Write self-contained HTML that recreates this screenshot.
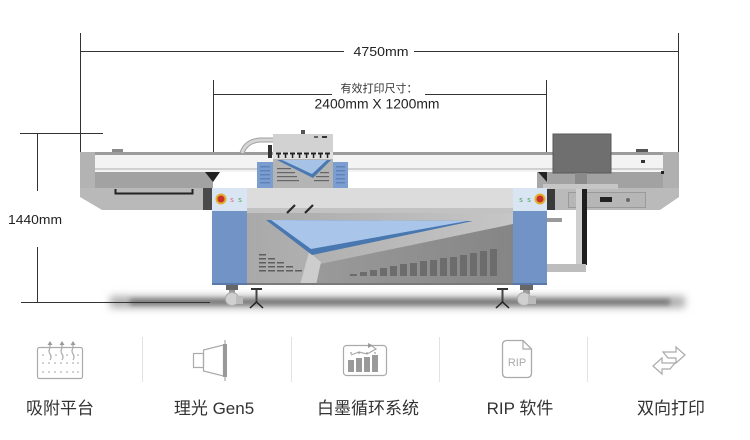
<!DOCTYPE html>
<html><head><meta charset="utf-8">
<style>
html,body{margin:0;padding:0;background:#fff;}
svg{display:block;}
text{font-family:"Liberation Sans","Noto Sans CJK SC",sans-serif;}
</style></head><body>
<svg width="750" height="440" viewBox="0 0 750 440" xmlns="http://www.w3.org/2000/svg">
<defs>
 <filter id="blur" x="-20%" y="-300%" width="140%" height="700%"><feGaussianBlur stdDeviation="4"/></filter>
 <filter id="blur2" x="-20%" y="-300%" width="140%" height="700%"><feGaussianBlur stdDeviation="2.5"/></filter>
 <linearGradient id="panelL" x1="0" y1="0" x2="1" y2="0"><stop offset="0" stop-color="#a9a9a9"/><stop offset="1" stop-color="#c6c6c6"/></linearGradient>
 <linearGradient id="dark" x1="0" y1="0" x2="1" y2="0"><stop offset="0" stop-color="#9a9a9a"/><stop offset="1" stop-color="#858585"/></linearGradient>
</defs>

<!-- shadow -->
<rect x="110" y="296" width="575" height="12" fill="#b0b0b0" filter="url(#blur)"/>
<rect x="130" y="299" width="540" height="6" fill="#7a7a7a" filter="url(#blur2)"/>

<!-- dimension lines -->
<g stroke="#333" stroke-width="1" fill="none" shape-rendering="crispEdges">
 <line x1="80.5" y1="33" x2="80.5" y2="152"/>
 <line x1="678.5" y1="33" x2="678.5" y2="152"/>
 <line x1="80" y1="51.5" x2="344" y2="51.5"/>
 <line x1="414" y1="51.5" x2="678" y2="51.5"/>
 <line x1="213.5" y1="80" x2="213.5" y2="152"/>
 <line x1="546.5" y1="80" x2="546.5" y2="152"/>
 <line x1="213" y1="94.5" x2="332" y2="94.5"/>
 <line x1="425" y1="94.5" x2="547" y2="94.5"/>
 <line x1="20" y1="133.5" x2="103" y2="133.5"/>
 <line x1="37.5" y1="133" x2="37.5" y2="191"/>
 <line x1="37.5" y1="247" x2="37.5" y2="302"/>
 <line x1="21" y1="302.5" x2="210" y2="302.5"/>
</g>
<text x="381" y="56" font-size="13" fill="#222" text-anchor="middle" textLength="55" lengthAdjust="spacingAndGlyphs">4750mm</text>
<text x="379" y="92" font-size="11" fill="#333" text-anchor="middle">有效打印尺寸：</text>
<text x="377" y="108.5" font-size="13.5" fill="#222" text-anchor="middle" textLength="125" lengthAdjust="spacingAndGlyphs">2400mm X 1200mm</text>
<text x="35" y="224" font-size="13" fill="#222" text-anchor="middle" textLength="54" lengthAdjust="spacingAndGlyphs">1440mm</text>

<!-- beam -->
<rect x="80" y="152" width="133" height="36" fill="#a8a8a8"/>
<rect x="537" y="152" width="142" height="36" fill="#a8a8a8"/>
<rect x="95" y="152" width="568" height="3" fill="#9c9c9c"/>
<rect x="95" y="155" width="568" height="17" fill="#f3f3f3"/>
<rect x="95" y="168" width="568" height="2" fill="#d0d0d0"/>
<rect x="95" y="172" width="118" height="16" fill="#a2a2a2"/>
<rect x="548" y="172" width="115" height="16" fill="#a2a2a2"/>
<rect x="80" y="152" width="15" height="36" fill="#b3b3b3"/>
<rect x="663" y="152" width="16" height="45" fill="#b0b0b0"/>
<polygon points="80,188 213,188 213,210 102,210 80,197" fill="#b9b9b9"/>
<polygon points="547,188 679,188 679,197 660,210 547,210" fill="#bababa"/>
<rect x="203" y="188" width="10" height="22" fill="#4a4a4a"/>
<rect x="547" y="188" width="8" height="22" fill="#3a3a3a"/>
<polygon points="205,172 220,172 213,182" fill="#222"/>
<polygon points="538,172 547,172 547,182" fill="#222"/>
<!-- handle -->
<path d="M115.5,189 V193.5 H192.5 V189" stroke="#222" stroke-width="2" fill="none"/>
<rect x="112" y="149" width="11" height="3" fill="#8a8a8a"/>
<rect x="636" y="149" width="12" height="3" fill="#555"/>
<rect x="641" y="160" width="4" height="3" fill="#333"/>
<rect x="661" y="171" width="3" height="3" fill="#222"/>
<!-- right panel inset -->
<rect x="568.5" y="192.5" width="77" height="15" fill="#b6b6b6" stroke="#9a9a9a"/>
<rect x="600" y="197" width="12" height="5" fill="#222"/>
<circle cx="628" cy="200" r="2" fill="#666"/>

<!-- carriage -->
<path d="M242,153 Q246,141 260,140 L274,140" stroke="#a0a0a0" stroke-width="5" fill="none"/>
<path d="M242,153 Q246,141 260,140 L274,140" stroke="#d6d6d6" stroke-width="3" fill="none"/>
<rect x="268" y="145" width="4" height="13" fill="#333"/>
<rect x="257" y="162" width="16" height="26" fill="#7c9dcf"/>
<rect x="333" y="162" width="15" height="26" fill="#7c9dcf"/>
<g fill="#5f82b8">
 <rect x="260" y="166" width="10" height="1.5"/><rect x="260" y="170" width="10" height="1.5"/><rect x="260" y="174" width="10" height="1.5"/><rect x="260" y="178" width="10" height="1.5"/><rect x="260" y="182" width="10" height="1.5"/>
 <rect x="336" y="166" width="9" height="1.5"/><rect x="336" y="170" width="9" height="1.5"/><rect x="336" y="174" width="9" height="1.5"/><rect x="336" y="178" width="9" height="1.5"/><rect x="336" y="182" width="9" height="1.5"/>
</g>
<rect x="273" y="134" width="60" height="54" fill="#b4b4b4"/>
<rect x="273" y="134" width="60" height="18" fill="#d2d2d2"/>
<rect x="273" y="152" width="60" height="7" fill="#e0e0e0"/>
<g fill="#222">
 <rect x="276" y="152.5" width="5" height="2"/><rect x="277.8" y="154" width="1.5" height="4"/>
 <rect x="283" y="152.5" width="5" height="2"/><rect x="284.8" y="154" width="1.5" height="4"/>
 <rect x="290" y="152.5" width="5" height="2"/><rect x="291.8" y="154" width="1.5" height="4"/>
 <rect x="297" y="152.5" width="5" height="2"/><rect x="298.8" y="154" width="1.5" height="4"/>
 <rect x="304" y="152.5" width="5" height="2"/><rect x="305.8" y="154" width="1.5" height="4"/>
 <rect x="311" y="152.5" width="5" height="2"/><rect x="312.8" y="154" width="1.5" height="4"/>
 <rect x="318" y="152.5" width="5" height="2"/><rect x="319.8" y="154" width="1.5" height="4"/>
 <rect x="325" y="152.5" width="5" height="2"/><rect x="326.8" y="154" width="1.5" height="4"/>
</g>
<polygon points="277,160 331,160 313,178" fill="#4a78b0"/>
<polygon points="282,160 327,160 312,174" fill="#a6c3e6"/>
<g fill="#666">
 <rect x="277" y="168" width="14" height="1.2"/><rect x="277" y="172" width="18" height="1.2"/><rect x="277" y="176" width="20" height="1.2"/><rect x="277" y="180" width="22" height="1.2"/>
 <rect x="320" y="172" width="9" height="1.2"/><rect x="316" y="176" width="13" height="1.2"/><rect x="314" y="180" width="15" height="1.2"/>
</g>
<rect x="301" y="130" width="4" height="4" fill="#555"/>
<rect x="314" y="136" width="4" height="2" fill="#666"/><rect x="322" y="136" width="5" height="2" fill="#333"/>

<!-- monitor & stand -->
<rect x="553" y="134" width="58" height="39" fill="#6f6f6f" stroke="#5a5a5a"/>
<rect x="575" y="173" width="12" height="12" fill="#8a8a8a"/>
<rect x="543" y="184" width="75" height="5" fill="#c6c6c6"/>
<rect x="576" y="189" width="6" height="76" fill="#cfcfcf"/>
<rect x="582" y="189" width="5" height="76" fill="#1e1e1e"/>
<rect x="547" y="264" width="39" height="8" fill="#bdbdbd"/>
<rect x="547" y="218" width="15" height="4" fill="#9a9a9a"/>

<!-- body: center panel -->
<rect x="247" y="188" width="266" height="97" fill="url(#panelL)"/>
<rect x="247" y="188" width="266" height="20" fill="#dcdcdc"/>
<rect x="247" y="208" width="266" height="5" fill="#c2c2c2"/>
<polygon points="316,285 320,264 513,224 513,285" fill="url(#dark)"/>
<polygon points="300,285 309,252 321,262 316,285" fill="#cdcdcd"/>
<polygon points="266,220 473,221 312,255" fill="#4977b0"/>
<polygon points="271,220 467,221 311,249" fill="#a9c6ea"/>
<line x1="287" y1="213" x2="295" y2="205" stroke="#2a2a2a" stroke-width="2.2"/>
<line x1="305" y1="213" x2="313" y2="205" stroke="#2a2a2a" stroke-width="2.2"/>
<!-- left vents -->
<g fill="#5e5e5e">
 <rect x="259" y="254" width="7" height="1.5"/>
 <rect x="259" y="258" width="7" height="1.5"/><rect x="268" y="258" width="7" height="1.5"/>
 <rect x="259" y="262" width="7" height="1.5"/><rect x="268" y="262" width="7" height="1.5"/><rect x="277" y="262" width="7" height="1.5"/>
 <rect x="259" y="266" width="7" height="1.5"/><rect x="268" y="266" width="7" height="1.5"/><rect x="277" y="266" width="7" height="1.5"/><rect x="286" y="266" width="7" height="1.5"/>
 <rect x="259" y="270" width="7" height="1.5"/><rect x="268" y="270" width="7" height="1.5"/><rect x="277" y="270" width="7" height="1.5"/><rect x="286" y="270" width="7" height="1.5"/><rect x="295" y="270" width="7" height="1.5"/>
</g>
<!-- right vents -->
<g fill="#6c6c6c">
 <rect x="350" y="274" width="7" height="2"/>
 <rect x="360" y="272" width="7" height="4"/>
 <rect x="370" y="270" width="7" height="6"/>
 <rect x="380" y="268" width="7" height="8"/>
 <rect x="390" y="266" width="7" height="10"/>
 <rect x="400" y="264" width="7" height="12"/>
 <rect x="410" y="263" width="7" height="13"/>
 <rect x="420" y="261" width="7" height="15"/>
 <rect x="430" y="260" width="7" height="16"/>
 <rect x="440" y="258" width="7" height="18"/>
 <rect x="450" y="257" width="7" height="19"/>
 <rect x="460" y="255" width="7" height="21"/>
 <rect x="470" y="253" width="7" height="23"/>
 <rect x="480" y="251" width="7" height="25"/>
 <rect x="490" y="249" width="7" height="27"/>
</g>
<rect x="247" y="283" width="266" height="2" fill="#7a7a7a"/>

<!-- blue columns -->
<rect x="212" y="188" width="35" height="97" fill="#7193c6"/>
<rect x="212" y="188" width="35" height="23" fill="#dae5f3"/>
<circle cx="221" cy="199" r="5.5" fill="#e0b030"/><circle cx="221" cy="199" r="3.5" fill="#c8322a"/>
<text x="232" y="202" font-size="7" fill="#d06080" text-anchor="middle">s</text>
<text x="240" y="202" font-size="7" fill="#40a050" text-anchor="middle">s</text>
<rect x="513" y="188" width="34" height="97" fill="#7193c6"/>
<rect x="513" y="188" width="34" height="23" fill="#dae5f3"/>
<text x="521" y="202" font-size="7" fill="#40a050" text-anchor="middle">s</text>
<text x="529" y="202" font-size="7" fill="#40a050" text-anchor="middle">s</text>
<circle cx="540" cy="199" r="5.5" fill="#e0b030"/><circle cx="540" cy="199" r="3.5" fill="#c8322a"/>
<rect x="212" y="283" width="35" height="2" fill="#5a78a8"/>
<rect x="513" y="283" width="34" height="2" fill="#5a78a8"/>

<!-- feet -->
<rect x="226" y="285" width="12" height="5" fill="#666"/>
<rect x="229" y="290" width="6" height="4" fill="#999"/>
<circle cx="232" cy="299" r="6.5" fill="#d0d0d0" stroke="#aaa"/>
<rect x="236" y="296" width="7" height="8" fill="#bbb"/>
<rect x="251" y="288" width="11" height="2" fill="#333"/>
<rect x="255.5" y="290" width="2" height="13" fill="#444"/>
<path d="M250,308 L256.5,302 L263,308" stroke="#222" stroke-width="1.5" fill="none"/>
<rect x="497" y="288" width="11" height="2" fill="#333"/>
<rect x="501.5" y="290" width="2" height="13" fill="#444"/>
<path d="M496,308 L502.5,302 L509,308" stroke="#222" stroke-width="1.5" fill="none"/>
<rect x="520" y="285" width="13" height="5" fill="#666"/>
<rect x="523" y="290" width="7" height="4" fill="#999"/>
<circle cx="524" cy="299" r="6.5" fill="#d0d0d0" stroke="#aaa"/>
<rect x="528" y="296" width="8" height="8" fill="#bbb"/>

<!-- bottom icons dividers -->
<g stroke="#e2e2e2" stroke-width="1" shape-rendering="crispEdges">
 <line x1="142.5" y1="337" x2="142.5" y2="382"/>
 <line x1="291.5" y1="337" x2="291.5" y2="382"/>
 <line x1="439.5" y1="337" x2="439.5" y2="382"/>
 <line x1="587.5" y1="337" x2="587.5" y2="382"/>
</g>

<!-- icon 1 -->
<g stroke="#aaa" fill="none" stroke-width="1.2">
 <rect x="37.5" y="347.5" width="45" height="31" rx="2"/>
 <path d="M50,344 V348 Q48,351 50,354 Q52,357 50,360"/>
 <path d="M62,344 V348 Q60,351 62,354 Q64,357 62,360"/>
 <path d="M73,344 V348 Q71,351 73,354 Q75,357 73,360"/>
</g>
<g fill="#999">
 <polygon points="50,341 47.5,345 52.5,345"/><polygon points="62,341 59.5,345 64.5,345"/><polygon points="73,341 70.5,345 75.5,345"/>
 <circle cx="43" cy="355" r=".8"/><circle cx="56" cy="355" r=".8"/><circle cx="67" cy="355" r=".8"/><circle cx="78" cy="355" r=".8"/>
 <circle cx="43" cy="363" r=".8"/><circle cx="49" cy="363" r=".8"/><circle cx="55" cy="363" r=".8"/><circle cx="61" cy="363" r=".8"/><circle cx="67" cy="363" r=".8"/><circle cx="73" cy="363" r=".8"/><circle cx="78" cy="363" r=".8"/>
 <circle cx="43" cy="372" r=".8"/><circle cx="49" cy="372" r=".8"/><circle cx="55" cy="372" r=".8"/><circle cx="61" cy="372" r=".8"/><circle cx="67" cy="372" r=".8"/><circle cx="73" cy="372" r=".8"/><circle cx="78" cy="372" r=".8"/>
</g>

<!-- icon 2 -->
<g stroke="#aaa" fill="none" stroke-width="1.2">
 <rect x="193.5" y="353.5" width="10" height="14"/>
 <polygon points="203.5,350 223.5,345 223.5,376 203.5,371"/>
</g>
<rect x="223" y="344" width="4" height="33" fill="#999"/>
<line x1="225" y1="340" x2="225" y2="381" stroke="#999" stroke-width="1"/>

<!-- icon 3 -->
<g stroke="#aaa" fill="none" stroke-width="1.2">
 <rect x="343.5" y="345.5" width="43" height="30" rx="3"/>
 <path d="M351,355 L359,352 L367,354 L376,349 L372,346"/>
</g>
<polygon points="368,343 373,345.5 368,348" fill="#999"/>
<g fill="#9a9a9a">
 <rect x="348" y="360" width="6" height="12"/>
 <rect x="356" y="358" width="6" height="14"/>
 <rect x="364" y="357" width="6" height="15"/>
 <rect x="372" y="355" width="6" height="17"/>
 <circle cx="351" cy="353" r=".9"/><circle cx="359" cy="353" r=".9"/><circle cx="367" cy="353" r=".9"/><circle cx="375" cy="353" r=".9"/>
</g>

<!-- icon 4 -->
<path d="M507,340.5 H523 L531.5,349 V373 Q531.5,377.5 527,377.5 H507 Q502.5,377.5 502.5,373 V345 Q502.5,340.5 507,340.5 Z" stroke="#aaa" fill="none" stroke-width="1.3"/>
<path d="M523,340.5 V349 H531.5" stroke="#aaa" fill="none" stroke-width="1.2"/>
<text x="517" y="366" font-size="11" fill="#aaa" text-anchor="middle">RIP</text>

<!-- icon 5 -->
<g stroke="#aaa" fill="#fff" stroke-width="1.2" stroke-linejoin="miter">
 <polygon points="663,352 676,352 676,347 685,355 676,363 676,358 668,358"/>
 <polygon points="675,363 662,363 662,358 653,366 662,374 662,369 670,369"/>
</g>

<!-- labels -->
<g font-size="17" fill="#333" text-anchor="middle">
 <text x="60" y="414">吸附平台</text>
 <text x="214" y="414">理光 Gen5</text>
 <text x="368" y="414">白墨循环系统</text>
 <text x="520" y="414">RIP 软件</text>
 <text x="671" y="414">双向打印</text>
</g>
</svg>
</body></html>
